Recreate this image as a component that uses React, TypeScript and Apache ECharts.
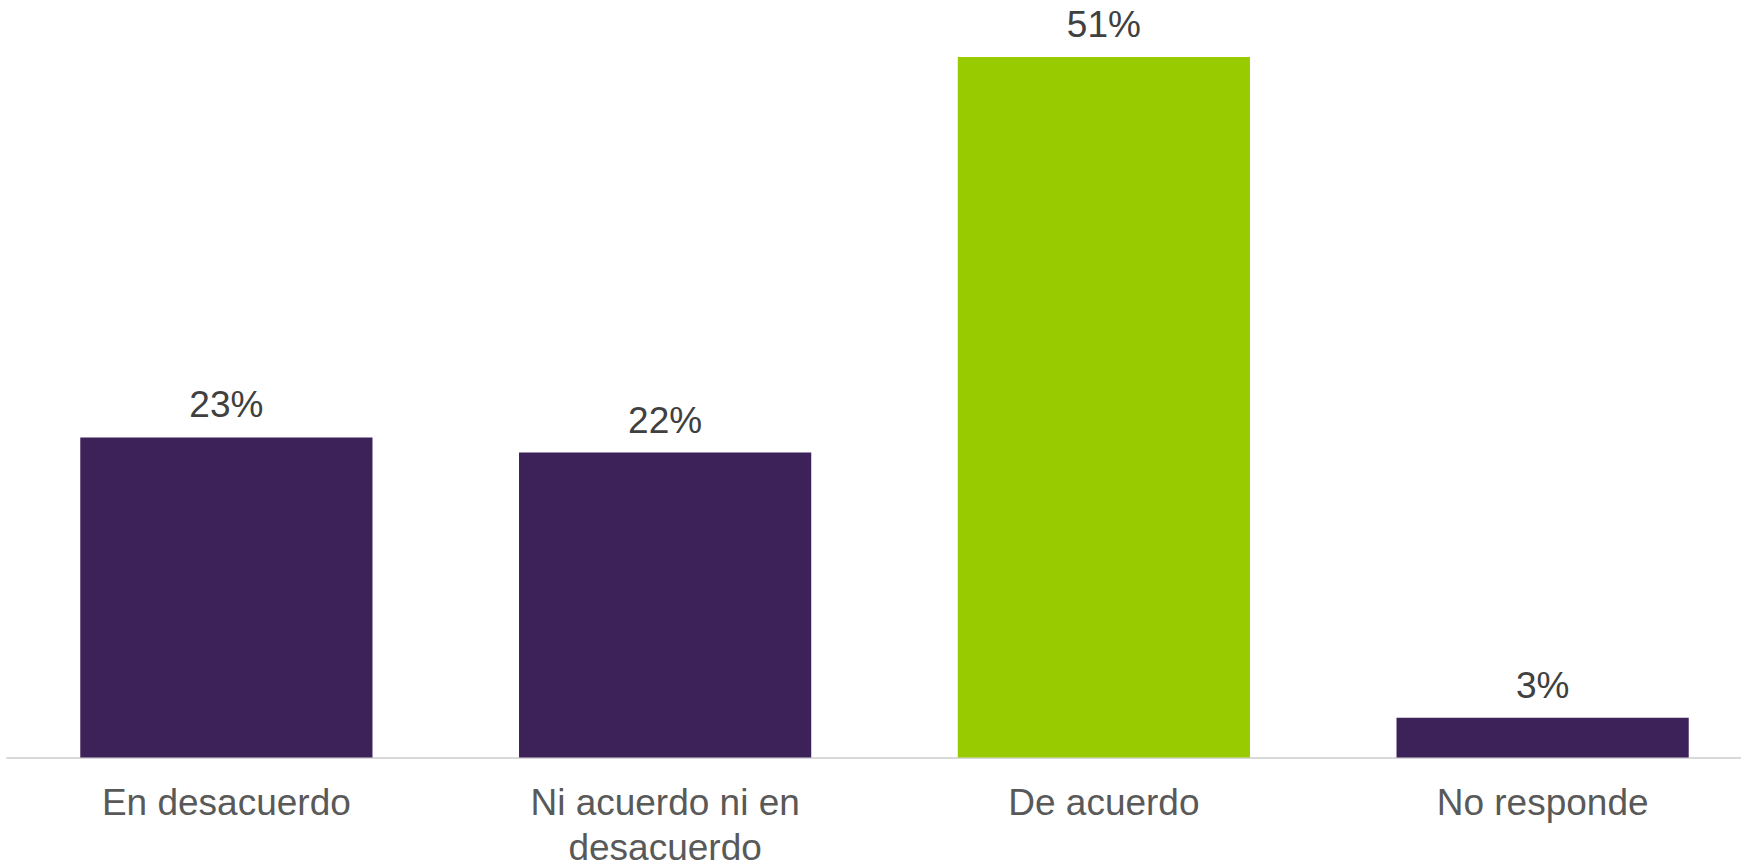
import React, { useEffect, useRef } from "react";
import * as echarts from "echarts";

const categories = ["En desacuerdo", "Ni acuerdo ni en\ndesacuerdo", "De acuerdo", "No responde"];
const values = [23.3, 22.2, 51.0, 2.9];
const barColors = ["#3D2159", "#3D2159", "#99CC00", "#3D2159"];

export default function App() {
  const ref = useRef<HTMLDivElement>(null);
  useEffect(() => {
    document.body.style.margin = "0";
    const chart = echarts.init(ref.current!, null, { renderer: "svg" });
    chart.setOption({
      animation: false,
      backgroundColor: "#ffffff",
      grid: { left: 7, top: 2, width: 1755, height: 755.5, containLabel: false, outerBoundsMode: "none" },
      xAxis: {
        type: "category",
        data: categories,
        axisLine: { show: true, lineStyle: { color: "#D9D9D9", width: 2 } },
        axisTick: { show: false },
        axisLabel: {
          color: "#595959",
          fontFamily: "Liberation Sans, Arial, sans-serif",
          fontSize: 37,
          lineHeight: 45,
          margin: 22,
          interval: 0,
        },
      },
      yAxis: {
        type: "value",
        min: 0,
        max: 55,
        show: false,
        splitLine: { show: false },
      },
      series: [
        {
          type: "bar",
          data: values.map((v, i) => ({ value: v, itemStyle: { color: barColors[i] } })),
          barCategoryGap: "33.4%",
          label: {
            show: true,
            position: "top",
            distance: 14,
            color: "#404040",
            fontFamily: "Liberation Sans, Arial, sans-serif",
            fontSize: 37,
            formatter: (p: any) => Math.round(p.value) + "%",
          },
        },
      ],
    });
    return () => chart.dispose();
  }, []);
  return <div ref={ref} style={{ position: "absolute", left: 0, top: 0, width: 1741, height: 861 }} />;
}
